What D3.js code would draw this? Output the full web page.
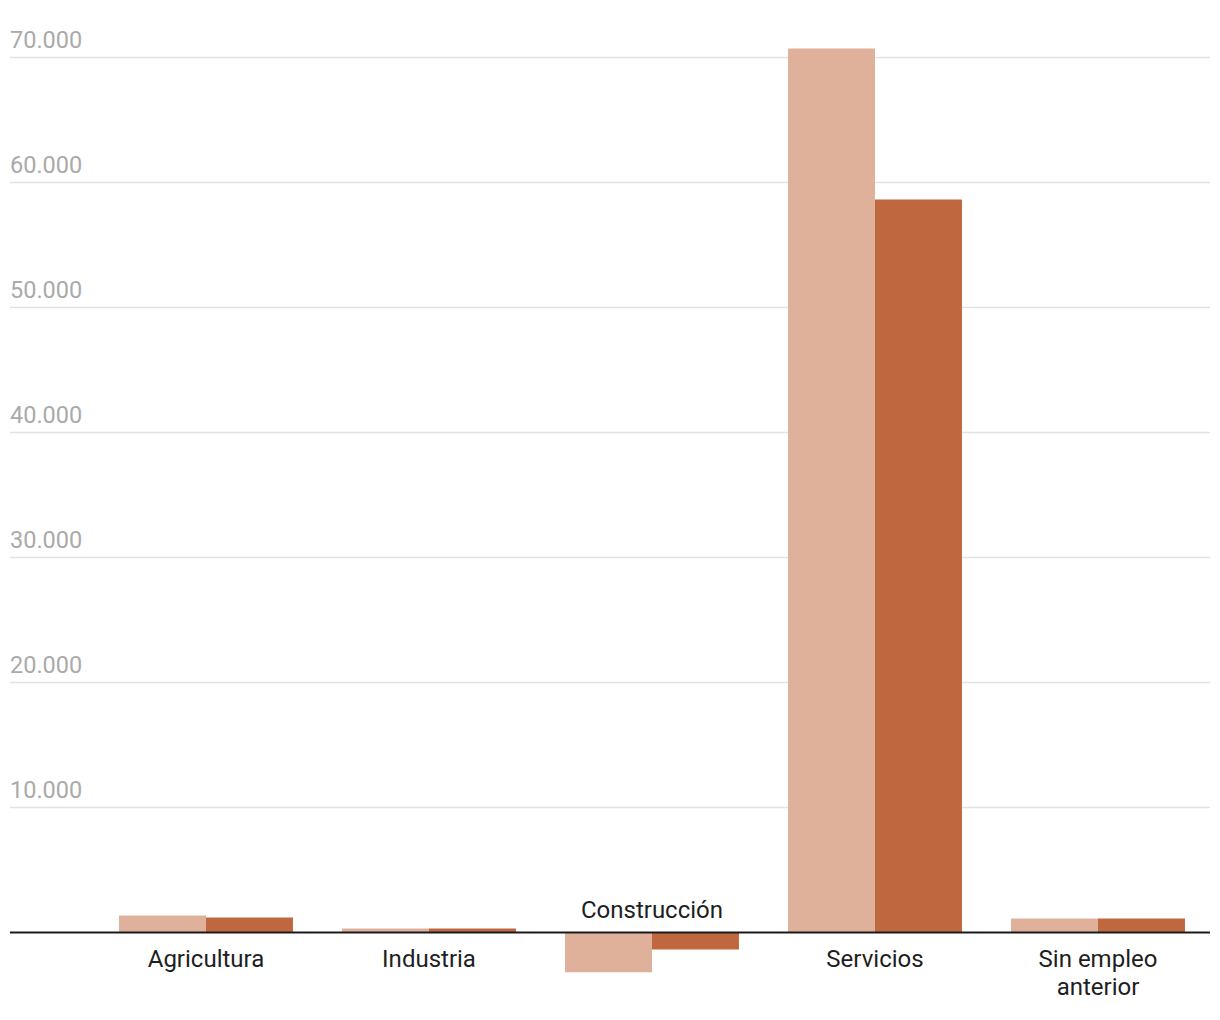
<!DOCTYPE html>
<html><head><meta charset="utf-8">
<script src="https://cdn.jsdelivr.net/npm/d3@7"></script>
<style>body{margin:0;background:#fff;} svg{display:block;font-family:Roboto, sans-serif;}</style>
</head><body>
<script>
const categories = ["Agricultura", "Industria", "Construcción", "Servicios", "Sin empleo anterior"];
const seriesNames = ["Serie 1", "Serie 2"];
const series1 = [1360, 320, -3180, 70720, 1120];
const series2 = [1200, 320, -1360, 58640, 1120];
const yTicks = [10000, 20000, 30000, 40000, 50000, 60000, 70000];
const colors = ["#dfb19b", "#bf6840"];

const W = 1220, H = 1020;
const svg = d3.select("body").append("svg").attr("width", W).attr("height", H);
const loc = d3.formatLocale({decimal: ",", thousands: ".", grouping: [3], currency: ["", "€"]});
const fmt = loc.format(",.0f");

const x0 = d3.scaleBand().domain(categories).range([94.5, 1209.5]).paddingInner(0.22).paddingOuter(0.11);
const x1 = d3.scaleBand().domain(seriesNames).range([0, x0.bandwidth()]);
const y = d3.scaleLinear().domain([0, 70000]).range([932.5, 57.5]);

// gridlines
svg.append("g").selectAll("line").data(yTicks).join("line")
  .attr("x1", 10).attr("x2", 1210).attr("y1", d => y(d)).attr("y2", d => y(d))
  .attr("stroke", "#e2e2e2").attr("stroke-width", 1.6);
svg.append("g").selectAll("text").data(yTicks).join("text")
  .attr("x", 10).attr("y", d => y(d) - 10)
  .attr("font-size", 23.5).attr("fill", "#aaaaaa").text(d => fmt(d));

const data = categories.map((c, i) => ({c, vals: [series1[i], series2[i]]}));
const g = svg.append("g");
data.forEach(d => {
  d.vals.forEach((v, j) => {
    g.append("rect")
      .attr("x", x0(d.c) + x1(seriesNames[j]))
      .attr("width", x1.bandwidth())
      .attr("y", Math.min(y(v), y(0)))
      .attr("height", Math.abs(y(v) - y(0)))
      .attr("fill", colors[j]);
  });
});

// baseline
svg.append("line").attr("x1", 10).attr("x2", 1210).attr("y1", y(0)).attr("y2", y(0))
  .attr("stroke", "#1a1a1a").attr("stroke-width", 2);

// category labels
data.forEach(d => {
  const neg = d.vals.every(v => v < 0);
  const words = d.c === "Sin empleo anterior" ? ["Sin empleo", "anterior"] : [d.c];
  const cx = x0(d.c) + x0.bandwidth() / 2;
  const t = svg.append("text").attr("text-anchor", "middle").attr("font-size", 24).attr("fill", "#1e1e1e");
  words.forEach((w, k) => {
    t.append("tspan").attr("x", cx).attr("y", (neg ? y(0) - 15 : y(0) + 34) + k * 28).text(w);
  });
});
</script>
</body></html>
